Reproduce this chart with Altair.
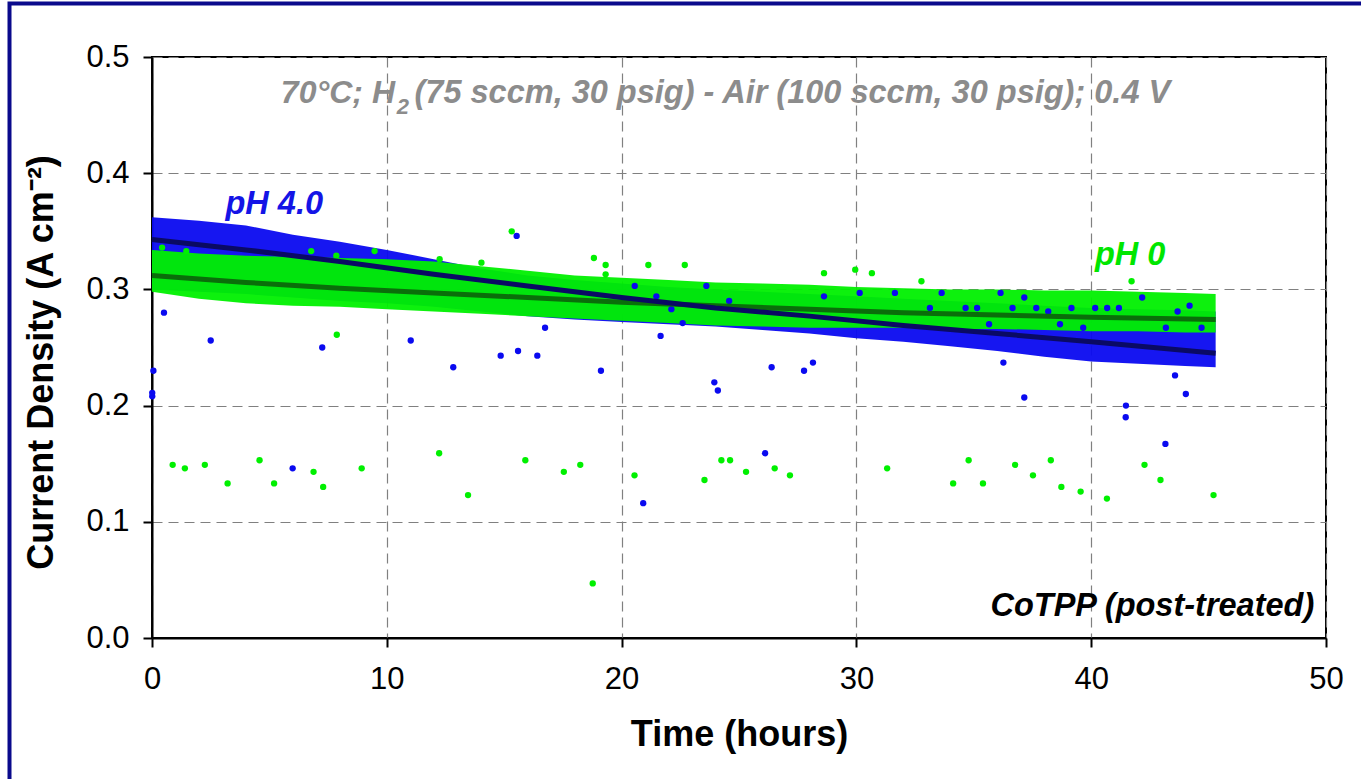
import altair as alt
import pandas as pd

FONT = "Liberation Sans"

# ---- dense band envelopes (time in hours, current density A/cm2)
band_t = [0, 2, 4, 6, 8, 10, 12, 14, 16, 18, 20, 22, 24, 26, 28, 30, 32, 34, 36, 38, 40, 42, 44, 45.3]
ph4_hi = [0.362, 0.359, 0.355, 0.347, 0.341, 0.334, 0.326, 0.318, 0.312, 0.308, 0.305, 0.302,
          0.300, 0.298, 0.296, 0.294, 0.292, 0.290, 0.288, 0.286, 0.284, 0.283, 0.282, 0.281]
ph4_lo = [0.300, 0.298, 0.296, 0.293, 0.290, 0.288, 0.285, 0.281, 0.277, 0.274, 0.272, 0.270,
          0.268, 0.265, 0.262, 0.258, 0.255, 0.251, 0.247, 0.242, 0.238, 0.236, 0.234, 0.233]
ph0_hi = [0.334, 0.331, 0.329, 0.328, 0.327, 0.326, 0.324, 0.320, 0.316, 0.312, 0.310, 0.308,
          0.306, 0.305, 0.304, 0.302, 0.301, 0.300, 0.300, 0.299, 0.299, 0.298, 0.297, 0.296]
ph0_lo = [0.298, 0.292, 0.288, 0.286, 0.285, 0.283, 0.281, 0.279, 0.277, 0.275, 0.273, 0.271,
          0.269, 0.268, 0.267, 0.267, 0.267, 0.266, 0.266, 0.265, 0.264, 0.264, 0.263, 0.263]

# ---- individual points (outliers and visible specks)
ph4_pt_t = [0.01, 0.01, 0.06, 0.51, 2.50, 5.99, 7.25, 11.02, 12.83, 14.85, 15.53, 15.59, 16.41,
            16.74, 19.12, 20.92, 21.66, 23.95, 24.10, 26.11, 26.39, 27.77, 28.15, 36.26, 37.15,
            41.48, 41.47, 43.16, 43.57, 44.03,
            31.64, 33.63, 36.14, 37.15, 33.13, 34.65, 35.14, 36.65, 37.66, 38.17, 39.16, 40.17,
            40.68, 41.18, 42.17, 44.19, 43.68, 44.70, 43.18, 38.67, 39.66, 35.65,
            23.61, 30.14, 28.62, 24.58, 22.12, 22.60, 21.48, 20.56]
ph4_pt_j = [0.208, 0.211, 0.230, 0.280, 0.256, 0.146, 0.250, 0.256, 0.233, 0.243, 0.346, 0.247, 0.243,
            0.267, 0.230, 0.116, 0.260, 0.220, 0.213, 0.159, 0.233, 0.230, 0.237, 0.237, 0.207,
            0.200, 0.190, 0.167, 0.226, 0.210,
            0.297, 0.297, 0.297, 0.293, 0.284, 0.284, 0.284, 0.284, 0.284, 0.281, 0.284, 0.284,
            0.284, 0.284, 0.293, 0.286, 0.281, 0.267, 0.267, 0.270, 0.267, 0.270,
            0.303, 0.297, 0.294, 0.290, 0.283, 0.271, 0.294, 0.303]
ph0_pt_t = [0.88, 1.40, 2.25, 3.22, 4.58, 5.20, 6.88, 7.29, 8.93, 12.23, 13.46, 15.90, 17.54,
            18.24, 18.77, 20.55, 23.53, 24.25, 24.62, 25.30, 26.52, 27.17, 31.31, 34.12, 34.78,
            35.39, 36.76, 37.52, 38.28, 38.73, 39.55, 40.67, 42.27, 42.95, 45.21,
            7.87, 15.32, 18.82, 19.32, 19.32, 21.14, 22.69, 28.62, 29.95, 30.66, 32.77, 41.72,
            9.48, 6.78, 7.85, 12.25, 14.03, 1.46, 0.43]
ph0_pt_j = [0.149, 0.146, 0.149, 0.133, 0.153, 0.133, 0.143, 0.130, 0.146, 0.159, 0.123, 0.153, 0.143,
            0.149, 0.047, 0.140, 0.136, 0.153, 0.153, 0.143, 0.146, 0.140, 0.146, 0.133, 0.153,
            0.133, 0.149, 0.140, 0.153, 0.130, 0.126, 0.120, 0.149, 0.136, 0.123,
            0.261, 0.350, 0.327, 0.321, 0.313, 0.321, 0.321, 0.314, 0.317, 0.314, 0.307, 0.307,
            0.333, 0.333, 0.329, 0.326, 0.323, 0.333, 0.336]

# ---- trend lines
trend_t = [0, 4, 8, 12, 16, 20, 24, 28, 32, 36, 40, 45.3]
ph4_trend = [0.343, 0.334, 0.324, 0.313, 0.303, 0.293, 0.284, 0.277, 0.269, 0.262, 0.255, 0.245]
ph0_trend = [0.312, 0.306, 0.301, 0.297, 0.293, 0.289, 0.286, 0.283, 0.280, 0.278, 0.276, 0.274]

x_ticks = [0, 10, 20, 30, 40, 50]
y_ticks = [0.0, 0.1, 0.2, 0.3, 0.4, 0.5]

BLUE = "#0a0af0"
GREEN = "#00f000"
NAVY = "#0a0a64"
DKGREEN = "#0a6e0a"

xscale = alt.Scale(domain=[0, 50], nice=False, zero=False)
yscale = alt.Scale(domain=[0, 0.5], nice=False, zero=False)

xaxis = alt.Axis(values=x_ticks, format="d", title="Time (hours)", labelFlush=False,
                 titleY=107, titleBaseline="alphabetic")
yaxis = alt.Axis(values=y_ticks, format=".1f", title="Current Density (A cm\u207b\u00b2)",
                 titleX=-100, titleY=305, titleAngle=270, titleAlign="center",
                 titleBaseline="alphabetic")


def X(field):
    return alt.X(f"{field}:Q", scale=xscale, axis=xaxis)


def Y(field):
    return alt.Y(f"{field}:Q", scale=yscale, axis=yaxis)


band4 = pd.DataFrame({"t": band_t, "lo": ph4_lo, "hi": ph4_hi})
band0 = pd.DataFrame({"t": band_t, "lo": ph0_lo, "hi": ph0_hi})
pts4 = pd.DataFrame({"t": ph4_pt_t, "j": ph4_pt_j})
pts0 = pd.DataFrame({"t": ph0_pt_t, "j": ph0_pt_j})
tr4 = pd.DataFrame({"t": trend_t, "j": ph4_trend})
tr0 = pd.DataFrame({"t": trend_t, "j": ph0_trend})

area4 = alt.Chart(band4).mark_area(color=BLUE, opacity=0.95).encode(x=X("t"), y=Y("lo"), y2="hi:Q")
area0 = alt.Chart(band0).mark_area(color=GREEN, opacity=0.95).encode(x=X("t"), y=Y("lo"), y2="hi:Q")
dots0 = alt.Chart(pts0).mark_circle(color=GREEN, size=40, opacity=1).encode(x=X("t"), y=Y("j"))
dots4 = alt.Chart(pts4).mark_circle(color=BLUE, size=40, opacity=1).encode(x=X("t"), y=Y("j"))
line0 = alt.Chart(tr0).mark_line(color=DKGREEN, strokeWidth=5).encode(x=X("t"), y=Y("j"))
line4 = alt.Chart(tr4).mark_line(color=NAVY, strokeWidth=5).encode(x=X("t"), y=Y("j"))

# ---- annotations
ann_cond_a = pd.DataFrame({"t": [10.35], "j": [0.460], "s": ["70°C; H"]})
ann_cond_b = pd.DataFrame({"t": [10.42], "j": [0.451], "s": ["2"]})
ann_cond_c = pd.DataFrame({"t": [11.18], "j": [0.460], "s": ["(75 sccm, 30 psig) - Air (100 sccm, 30 psig); 0.4 V"]})
ann_ph4 = pd.DataFrame({"t": [3.13], "j": [0.3645], "s": ["pH 4.0"]})
ann_ph0 = pd.DataFrame({"t": [40.16], "j": [0.3214], "s": ["pH 0"]})
ann_co = pd.DataFrame({"t": [49.5], "j": [0.0188], "s": ["CoTPP (post-treated)"]})


def txt(df, color, size, align):
    return alt.Chart(df).mark_text(font=FONT, fontSize=size, fontWeight="bold", fontStyle="italic",
                                   color=color, align=align, baseline="alphabetic").encode(
        x=X("t"), y=Y("j"), text="s:N")


GRAY = "#8c8c8c"
t1 = txt(ann_cond_a, GRAY, 32, "right")
t2 = txt(ann_cond_b, GRAY, 22, "left")
t3 = txt(ann_cond_c, GRAY, 32.5, "left")
t4 = txt(ann_ph4, "#1414e6", 32.5, "left")
t5 = txt(ann_ph0, "#00e600", 32.5, "left")
t6 = txt(ann_co, "black", 32.5, "right")

frame = alt.Chart(pd.DataFrame({"a": [0]})).mark_rect(filled=False, stroke="#0a0a8c", strokeWidth=4).encode(
    x=alt.value(-142.5), x2=alt.value(1300), y=alt.value(-53.5), y2=alt.value(800))

chart = alt.layer(area4, area0, dots4, dots0, line0, line4, t1, t2, t3, t4, t5, t6, frame).properties(
    width=1174, height=581,
    autosize=alt.AutoSizeParams(type="none"),
    padding={"left": 152, "top": 57, "right": 35, "bottom": 141},
    background="white",
).configure_view(stroke="black", strokeWidth=2).configure_axis(
    labelFont=FONT, labelFontSize=31, labelColor="black",
    titleFont=FONT, titleFontSize=36, titleFontWeight="bold", titleColor="black",
    tickColor="black", tickSize=9, tickWidth=2,
    domainColor="black", domainWidth=2,
    grid=True, gridColor="#808080", gridDash=[10, 6], gridWidth=1.2,
).configure_axisX(labelPadding=17).configure_axisY(labelPadding=14)

chart.save("out.html", embed_options={"renderer": "svg", "actions": False})
